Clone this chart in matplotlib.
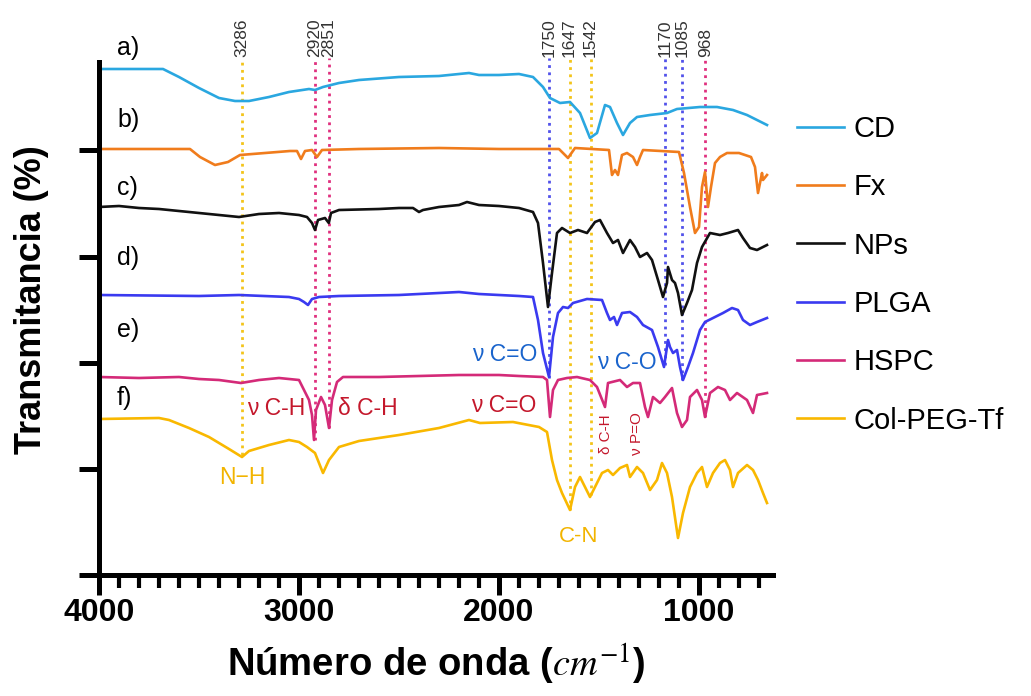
# FTIR spectra (stacked) - CD, Fx, NPs, PLGA, HSPC, Col-PEG-Tf
import numpy as np
import matplotlib.pyplot as plt
from matplotlib.ticker import MultipleLocator

plt.rcParams['font.family'] = ['Liberation Sans', 'DejaVu Sans']
plt.rcParams['mathtext.fontset'] = 'stix'

# spectra: wavenumber (cm-1) and stacked height (arbitrary units)
cd_wn = [4000, 3680, 3600, 3500, 3400, 3320, 3250, 3150, 3050, 2950, 2920, 2880, 2800, 2700,
         2500, 2300, 2150, 2100, 2000, 1900, 1830, 1780, 1745, 1695, 1645, 1595, 1545, 1510,
         1470, 1445, 1410, 1380, 1345, 1310, 1245, 1160, 1110, 995, 910, 830, 760, 660]
cd_t = [506, 506, 498, 487, 477, 474, 474, 478, 483, 486, 485, 488, 492, 495,
        498, 499, 502, 500, 500, 501, 498, 488, 477, 472, 473, 462, 437, 442,
        470, 468, 452, 440, 452, 458, 460, 462, 466, 468, 468, 465, 460, 450]

fx_wn = [4000, 3545, 3495, 3420, 3355, 3295, 3045, 3010, 2990, 2970, 2935, 2910, 2885, 2700,
         2300, 2000, 1700, 1655, 1620, 1450, 1435, 1420, 1405, 1385, 1360, 1330, 1310, 1295,
         1280, 1100, 1075, 1045, 1020, 1000, 985, 970, 955, 940, 920, 895, 860, 800, 740,
         720, 705, 685, 680, 660]
fx_t = [426, 426, 418, 410, 413, 420, 424, 424, 416, 424, 425, 418, 425, 426,
        427, 426, 426, 417, 427, 425, 400, 405, 400, 420, 422, 418, 410, 418,
        425, 423, 402, 368, 342, 348, 388, 403, 368, 388, 412, 418, 422, 422, 418,
        408, 382, 402, 395, 400]

nps_wn = [4000, 3900, 3800, 3700, 3600, 3500, 3400, 3300, 3200, 3100, 3000, 2960, 2935, 2920,
          2905, 2870, 2851, 2840, 2800, 2600, 2500, 2430, 2400, 2380, 2300, 2200, 2160, 2100,
          2000, 1900, 1830, 1805, 1780, 1755, 1735, 1710, 1685, 1645, 1605, 1560, 1520, 1495,
          1460, 1430, 1405, 1380, 1345, 1320, 1295, 1260, 1235, 1205, 1180, 1160, 1155, 1135,
          1120, 1105, 1085, 1060, 1035, 1010, 985, 945, 895, 855, 805, 780, 745, 710, 680, 660]
nps_t = [368, 369, 367, 366, 364, 362, 360, 358, 361, 362, 360, 358, 352, 345,
         355, 357, 352, 362, 365, 366, 367, 367, 363, 365, 368, 370, 373, 370,
         369, 367, 363, 352, 312, 268, 302, 342, 347, 342, 345, 342, 353, 355,
         342, 332, 335, 322, 335, 328, 318, 322, 315, 295, 278, 292, 308, 295,
         292, 282, 260, 272, 285, 312, 328, 342, 340, 342, 345, 337, 327, 325, 328, 330]

plga_wn = [4000, 3500, 3300, 3050, 3000, 2975, 2955, 2935, 2900, 2800, 2500, 2200, 2100, 2000,
           1900, 1830, 1805, 1780, 1750, 1730, 1705, 1680, 1655, 1630, 1560, 1485, 1460, 1445,
           1425, 1410, 1385, 1345, 1310, 1280, 1235, 1205, 1175, 1155, 1145, 1130, 1110, 1095,
           1080, 1055, 1030, 995, 970, 930, 880, 835, 805, 780, 745, 710, 660]
plga_t = [280, 279, 280, 278, 276, 273, 270, 276, 278, 279, 280, 283, 281, 280,
          279, 278, 255, 222, 198, 238, 262, 268, 267, 272, 276, 275, 262, 255,
          258, 250, 262, 263, 258, 250, 245, 228, 208, 235, 228, 222, 225, 208,
          195, 208, 222, 245, 253, 257, 262, 267, 265, 255, 250, 253, 257]

hspc_wn = [4000, 3800, 3600, 3500, 3400, 3290, 3200, 3100, 3000, 2975, 2950, 2935, 2925, 2915,
           2890, 2870, 2850, 2835, 2810, 2780, 2600, 2400, 2200, 2000, 1900, 1780, 1760, 1745,
           1730, 1705, 1660, 1610, 1545, 1510, 1470, 1455, 1395, 1360, 1330, 1295, 1270, 1255,
           1230, 1195, 1170, 1135, 1110, 1085, 1060, 1045, 1010, 985, 970, 945, 905, 870, 845,
           810, 760, 730, 710, 660]
hspc_t = [198, 197, 198, 196, 195, 192, 195, 197, 195, 185, 175, 160, 135, 165,
          178, 170, 147, 175, 193, 198, 198, 199, 200, 200, 199, 198, 195, 158,
          185, 195, 197, 198, 195, 188, 168, 192, 195, 188, 192, 192, 168, 158,
          178, 172, 178, 187, 162, 148, 155, 178, 185, 175, 158, 182, 188, 185, 175,
          182, 175, 162, 180, 182]

col_wn = [4000, 3700, 3650, 3550, 3450, 3350, 3285, 3250, 3150, 3050, 3000, 2960, 2920, 2880,
          2850, 2800, 2700, 2500, 2300, 2150, 2095, 1930, 1800, 1760, 1735, 1710, 1685, 1645,
          1620, 1595, 1570, 1545, 1520, 1485, 1455, 1430, 1395, 1360, 1345, 1310, 1280, 1245,
          1210, 1185, 1160, 1135, 1105, 1080, 1045, 1010, 985, 960, 930, 895, 870, 845, 830,
          805, 760, 730, 705, 680, 660]
col_t = [156, 157, 155, 147, 138, 126, 118, 124, 130, 135, 133, 128, 122, 102,
         115, 128, 134, 140, 147, 155, 152, 153, 148, 143, 115, 95, 82, 65,
         88, 98, 88, 78, 88, 102, 105, 100, 107, 110, 98, 108, 102, 85,
         95, 112, 102, 78, 37, 62, 88, 102, 108, 88, 102, 112, 115, 105, 88,
         102, 110, 105, 95, 82, 72]

names = ['CD', 'Fx', 'NPs', 'PLGA', 'HSPC', 'Col-PEG-Tf']
colors = ['#2aa7e0', '#f07c1c', '#111111', '#3a3af0', '#d42a78', '#f9b800']
letters = ['a)', 'b)', 'c)', 'd)', 'e)', 'f)']
letter_y = [527, 455, 387, 317, 245, 177]

# marked bands: wavenumber, group colour, where the dotted line stops
peaks = [3286, 2920, 2851, 1750, 1647, 1542, 1170, 1085, 968]
peak_group = ['y', 'm', 'm', 'b', 'y', 'y', 'b', 'b', 'm']
peak_end = [120, 135, 147, 197, 65, 80, 210, 195, 158]
group_col = {'y': '#f3c41a', 'm': '#e0307f', 'b': '#5252ea'}

fig = plt.figure(figsize=(10.31, 6.96), dpi=100)
ax = fig.add_axes([99 / 1031, 1 - 575 / 696, 674 / 1031, 513 / 696])

series = [(cd_wn, cd_t), (fx_wn, fx_t), (nps_wn, nps_t), (plga_wn, plga_t),
          (hspc_wn, hspc_t), (col_wn, col_t)]
for (wn, t), name, c in zip(series, names, colors):
    ax.plot(wn, t, color=c, lw=1.9, label=name)

ytop = 517
for p, g, e in zip(peaks, peak_group, peak_end):
    ax.vlines(p, e, ytop, colors=group_col[g], linestyles=(0, (1, 1.6)), lw=2.0,
              clip_on=False, zorder=1)
    ax.text(p, ytop + 1, str(p), rotation=90, ha='center', va='bottom', fontsize=12.5,
            color='#333333')

for lt, ly in zip(letters, letter_y):
    ax.text(3910, ly, lt, fontsize=18, ha='left', va='center')

# band assignments
blue_t, red_t, gold_t = '#1a64cc', '#c4182c', '#f2b400'
ax.text(1970, 221, 'ν C=O', color=blue_t, fontsize=16.5, ha='center', va='center')
ax.text(1360, 213, 'ν C-O', color=blue_t, fontsize=16.5, ha='center', va='center')
ax.text(3115, 167, 'ν C-H', color=red_t, fontsize=16.5, ha='center', va='center')
ax.text(2655, 167, 'δ C-H', color=red_t, fontsize=16.5, ha='center', va='center')
ax.text(1975, 170, 'ν C=O', color=red_t, fontsize=16.5, ha='center', va='center')
ax.text(1465, 141, 'δ C-H', color=red_t, fontsize=11, ha='center', va='center', rotation=90)
ax.text(1310, 141, 'ν P=O', color=red_t, fontsize=11, ha='center', va='center', rotation=90)
ax.text(3285, 98, 'N−H', color=gold_t, fontsize=16.5, ha='center', va='center')
ax.text(1600, 38, 'C-N', color=gold_t, fontsize=16, ha='center', va='center')

ax.set_xlim(4000, 630)
ax.set_ylim(0, 513)
ax.xaxis.set_major_locator(MultipleLocator(1000))
ax.xaxis.set_minor_locator(MultipleLocator(100))
ax.set_yticks([0, 106, 212, 318, 425])
ax.set_yticklabels([])
for s in ['top', 'right']:
    ax.spines[s].set_visible(False)
for s in ['left', 'bottom']:
    ax.spines[s].set_linewidth(3.6)
ax.tick_params(axis='both', which='major', direction='out', length=14.5, width=3.6)
ax.tick_params(axis='x', which='minor', direction='out', length=9, width=3.0)
ax.tick_params(axis='x', labelsize=23, pad=2)
for lab in ax.get_xticklabels():
    lab.set_fontweight('bold')

ax.set_xlabel('Número de onda ($cm^{-1}$)', fontsize=27.5, fontweight='bold', labelpad=10)
ax.set_ylabel('Transmitancia (%)', fontsize=26, fontweight='bold', labelpad=18)
ax.yaxis.label.set_y(0.536)

ax.legend(loc='upper left', bbox_to_anchor=(797 / 1031, 1 - 115 / 696),
          bbox_transform=fig.transFigure, frameon=False, fontsize=21,
          handlelength=1.6, handletextpad=0.35, labelspacing=1.04, borderpad=0,
          borderaxespad=0)

plt.savefig('out.png', dpi=100)
